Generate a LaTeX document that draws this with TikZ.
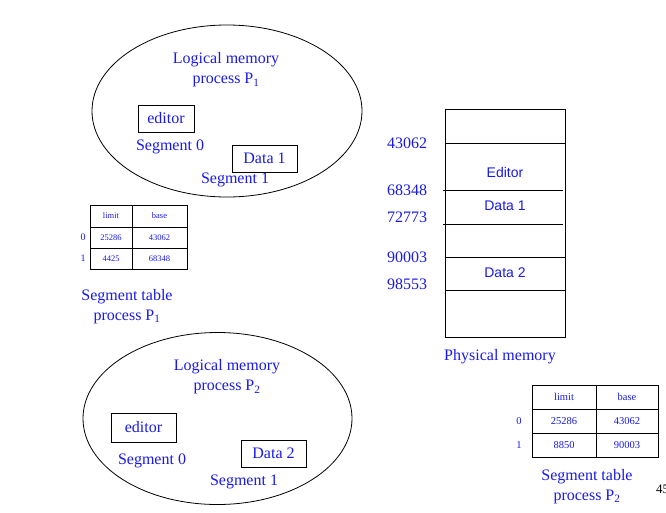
\documentclass[tikz,border=0pt]{standalone}
\usepackage{fontspec}
\setmainfont{Liberation Serif}
\newfontfamily\arialfont{Liberation Sans}
\usetikzlibrary{positioning,shapes.geometric}
\definecolor{segblue}{RGB}{25,25,235}

\begin{document}
\begin{tikzpicture}[x=1pt,y=-1pt,
  lbl/.style={text=segblue,font=\fontsize{16}{20}\selectfont,inner sep=0pt,align=center},
  segbox/.style={draw,line width=0.9pt,minimum width=56pt,minimum height=27pt,inner sep=0pt,
    text=segblue,font=\fontsize{16}{20}\selectfont},
  lmem/.style={draw,ellipse,line width=0.8pt,inner sep=0pt},
  tval/.style={text=segblue,font=\fontsize{8.5}{10}\selectfont,inner sep=0pt},
  tvalbig/.style={text=segblue,font=\fontsize{10.5}{12}\selectfont,inner sep=0pt},
  physlbl/.style={text=segblue,font=\arialfont\fontsize{14}{16}\selectfont,inner sep=0pt}]
  \useasboundingbox (0,0) rectangle (666,512);

  % logical memory of P1
  \node[lmem,minimum width=270pt,minimum height=172pt] (lmone) at (227,111) {};
  \node[lbl] (lmonetxt) at (226,70) {Logical memory\\process P\textsubscript{1}};
  \node[segbox] (edone) at (166,118.5) {editor};
  \node[lbl] (segzeroone) at (170,147) {Segment 0};
  \node[segbox,minimum width=65pt] (dataone) at (264.5,158.5) {Data 1};
  \node[lbl] (segoneone) at (235,180) {Segment 1};

  % segment table of P1
  \draw[line width=0.8pt] (90,205) rectangle (187,269);
  \foreach \y in {227,248}
    \draw[line width=0.8pt] (90,\y) -- (187,\y);
  \draw[line width=0.8pt] (132,205) -- (132,269);
  \node[tval] (limone) at (111,216) {limit};
  \node[tval] (baseone) at (159.5,216) {base};
  \node[tval] at (111,237.5) {25286};
  \node[tval] at (159.5,237.5) {43062};
  \node[tval] at (111,258.5) {4425};
  \node[tval] at (159.5,258.5) {68348};
  \node[tval,font=\fontsize{10}{12}\selectfont] (idxzeroone) at (83,237.5) {0};
  \node[tval,font=\fontsize{10}{12}\selectfont] (idxoneone) at (83,258.5) {1};
  \node[lbl] (tblonecap) at (127,306.5) {Segment table\\process P\textsubscript{1}};

  % physical memory
  \node[draw,line width=0.8pt,minimum width=120pt,minimum height=228pt,inner sep=0pt] (phys) at (505,223) {};
  \draw[line width=0.8pt] (445,143) -- (565,143);
  \draw[line width=0.8pt] (443,190) -- (563,190);
  \draw[line width=0.8pt] (443,224) -- (563,224);
  \draw[line width=0.8pt] (445,257) -- (565,257);
  \draw[line width=0.8pt] (445,290) -- (565,290);
  \node[physlbl] (physed) at (505,172) {Editor};
  \node[physlbl] (physdone) at (505,206) {Data 1};
  \node[physlbl] (physdtwo) at (505,273) {Data 2};
  \node[lbl] (adra) at (407,143) {43062};
  \node[lbl] (adrb) at (407,190) {68348};
  \node[lbl] (adrc) at (407,217) {72773};
  \node[lbl] (adrd) at (407,257) {90003};
  \node[lbl] (adre) at (407,284) {98553};
  \node[lbl] (physcap) at (500,357) {Physical memory};

  % logical memory of P2
  \node[lmem,minimum width=269pt,minimum height=172pt] (lmtwo) at (217.5,418.5) {};
  \node[lbl] (lmtwotxt) at (227,377) {Logical memory\\process P\textsubscript{2}};
  \node[segbox,minimum width=65pt,minimum height=29pt] (edtwo) at (143.5,427.5) {editor};
  \node[lbl] (segzerotwo) at (152,461) {Segment 0};
  \node[segbox,minimum width=65pt] (datatwo) at (273.5,453.5) {Data 2};
  \node[lbl] (segonetwo) at (244,482) {Segment 1};

  % segment table of P2
  \draw[line width=0.8pt] (532,385) rectangle (658,457);
  \foreach \y in {409,433}
    \draw[line width=0.8pt] (532,\y) -- (658,\y);
  \draw[line width=0.8pt] (596,385) -- (596,457);
  \node[tvalbig] (limtwo) at (564,397) {limit};
  \node[tvalbig] (basetwo) at (627,397) {base};
  \node[tvalbig] at (564,421) {25286};
  \node[tvalbig] at (627,421) {43062};
  \node[tvalbig] at (564,445) {8850};
  \node[tvalbig] at (627,445) {90003};
  \node[tvalbig] (idxzerotwo) at (519,421) {0};
  \node[tvalbig] (idxonetwo) at (519,445) {1};
  \node[lbl] (tbltwocap) at (587,486.5) {Segment table\\process P\textsubscript{2}};

  \node[anchor=west,inner sep=0pt,font=\fontsize{13}{15}\selectfont] (pagenum) at (656,489) {45};
\end{tikzpicture}
\end{document}
